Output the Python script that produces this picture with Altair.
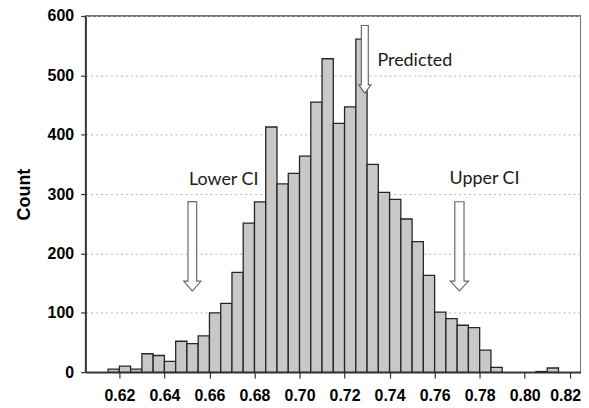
import altair as alt
import pandas as pd

# Histogram data (bin start, count); bin width 0.005
bin_starts = [0.615, 0.620, 0.625, 0.630, 0.635, 0.640, 0.645, 0.650, 0.655, 0.660,
              0.665, 0.670, 0.675, 0.680, 0.685, 0.690, 0.695, 0.700, 0.705, 0.710,
              0.715, 0.720, 0.725, 0.730, 0.735, 0.740, 0.745, 0.750, 0.755, 0.760,
              0.765, 0.770, 0.775, 0.780, 0.785, 0.805, 0.810]
counts = [5, 10, 5, 31, 28, 18, 52, 48, 61, 100,
          116, 168, 251, 287, 413, 317, 335, 364, 455, 528,
          419, 447, 561, 350, 303, 291, 258, 220, 163, 101,
          90, 79, 75, 37, 8, 1, 7]
bin_width = 0.005

# Annotations
ann_labels = ["Lower CI", "Predicted", "Upper CI"]
ann_values = [0.6524, 0.7290, 0.7710]      # arrow positions on x
ann_arrow_y = [212, 527, 212]              # arrow centre (count units)
ann_text_x = [0.6509, 0.7346, 0.7666]
ann_text_y = [323, 524, 325]

x_ticks = [0.62, 0.64, 0.66, 0.68, 0.70, 0.72, 0.74, 0.76, 0.78, 0.80, 0.82]
y_ticks = [0, 100, 200, 300, 400, 500, 600]

hist = pd.DataFrame({"start": bin_starts, "count": counts})
hist["end"] = hist["start"] + bin_width

ann = pd.DataFrame({"label": ann_labels, "x": ann_values, "y": ann_arrow_y,
                    "tx": ann_text_x, "ty": ann_text_y})

arrow_paths = [
    "M-0.435,-4.5L0.435,-4.5L0.435,3.5L0.865,3.5L0,4.5L-0.865,3.5L-0.435,3.5Z",
    "M-0.35,-3.4L0.35,-3.4L0.35,2.57L0.615,2.57L0,3.4L-0.615,2.57L-0.35,2.57Z",
    "M-0.465,-4.48L0.465,-4.48L0.465,3.5L0.915,3.5L0,4.48L-0.915,3.5L-0.465,3.5Z",
]

xscale = alt.Scale(domain=[0.605, 0.825], nice=False, zero=False)
yscale = alt.Scale(domain=[0, 600], nice=False)

bars = alt.Chart(hist).mark_rect(
    fill="#c8c8c8", stroke="#262626", strokeWidth=1.3
).encode(
    x=alt.X("start:Q", scale=xscale,
            axis=alt.Axis(values=x_ticks, format=".2f", title=None, grid=False,
                          labelFont="Liberation Sans", labelFontWeight="bold",
                          labelFontSize=16, labelColor="#000", labelPadding=10,
                          labelAlign={"condition": {"test": "datum.value > 0.815", "value": "right"},
                                      "value": "center"},
                          labelOffset={"condition": {"test": "datum.value > 0.815", "value": 11},
                                       "value": 0},
                          tickSize=6, tickColor="#333", domainColor="#333",
                          domainWidth=1.5, tickWidth=1.2)),
    x2="end:Q",
    y=alt.Y("count:Q", scale=yscale,
            axis=alt.Axis(values=y_ticks, title="Count", grid=True,
                          gridDash=[2, 3], gridColor="#b4b4b4", gridWidth=1,
                          labelFont="Liberation Sans", labelFontWeight="bold",
                          labelFontSize=16, labelColor="#000", labelPadding=7,
                          tickSize=5, tickColor="#333", domainColor="#333",
                          domainWidth=1.5, tickWidth=1.2,
                          titleFont="Liberation Sans", titleFontWeight="bold",
                          titleFontSize=18, titleColor="#000", titlePadding=14)),
    y2=alt.datum(0),
)

arrows = alt.Chart(ann).mark_point(
    filled=True, fill="white", stroke="#6a6a6a", strokeWidth=1.2,
    size=400, opacity=1
).encode(
    x=alt.X("x:Q", scale=xscale),
    y=alt.Y("y:Q", scale=yscale),
    shape=alt.Shape("label:N", scale=alt.Scale(domain=ann_labels, range=arrow_paths),
                    legend=None),
)

texts = alt.Chart(ann).mark_text(
    align="left", baseline="middle", font="Lato", fontSize=18, color="#1a1a1a"
).encode(
    x=alt.X("tx:Q", scale=xscale),
    y=alt.Y("ty:Q", scale=yscale),
    text="label:N",
)

chart = alt.layer(bars, arrows, texts).properties(
    width=498, height=358,
    autosize=alt.AutoSizeParams(type="none"),
    padding={"left": 78, "top": 7, "right": 0, "bottom": 33},
).configure_view(stroke="#444", strokeWidth=1.5)

chart.save("out.html", embed_options={"renderer": "svg", "actions": False})
